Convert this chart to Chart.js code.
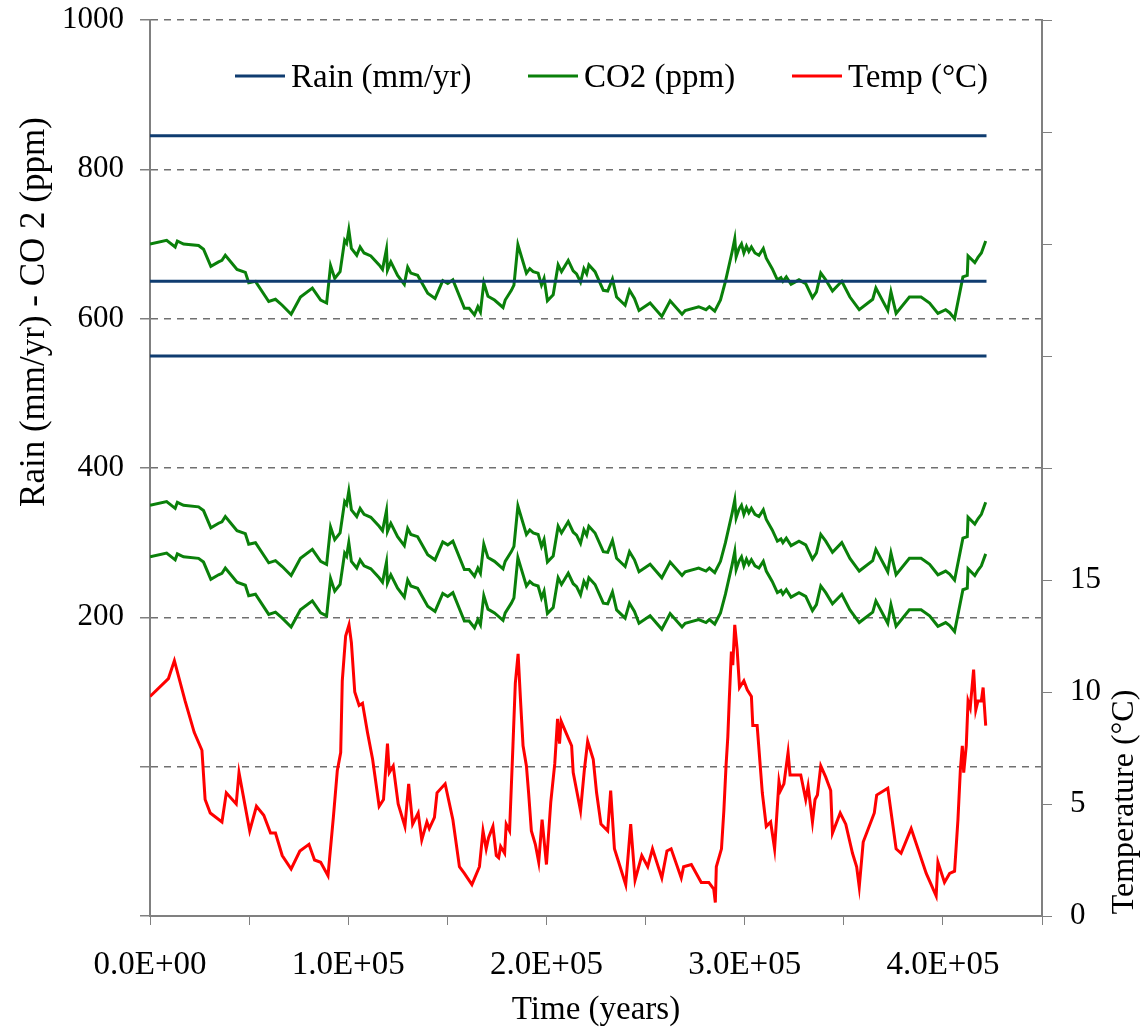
<!DOCTYPE html>
<html>
<head>
<meta charset="utf-8">
<script src="https://cdn.jsdelivr.net/npm/chart.js@4.4.1/dist/chart.umd.min.js"></script>
<style>
  html, body { margin: 0; padding: 0; background: #fff; }
  #wrap { width: 1141px; height: 1030px; }
</style>
</head>
<body>
<div id="wrap"><canvas id="climateChart" width="1141" height="1030"></canvas></div>
<script>
// Time axis (years) and the three rain scenarios
const rainYears = [0, 422000];
const rainLevels = [845, 650, 550];

// CO2 curves (ppm) - three shifted copies of the same record
const co2Years = [
  0, 8400, 12700, 13800, 16900, 24500, 27000, 30700, 34600, 36300,
  38000, 43900, 48100, 49800, 53200, 59900, 63300, 66700, 71200, 75900,
  81900, 86100, 89100, 91100, 93200, 95900, 98200, 99200, 100300, 101600,
  104300, 106000, 108000, 111400, 115600, 117300, 119300, 119800, 121500, 124900,
  128300, 130000, 131600, 135000, 140100, 143800, 147700, 150200, 152800, 158600,
  161000, 163700, 165400, 166700, 168400, 170500, 173800, 178100, 179200, 182300,
  183600, 185600, 189900, 191600, 193300, 195800, 197500, 198800, 200500, 203400,
  205900, 207600, 211000, 213500, 215200, 217200, 218900, 220300, 221400, 224500,
  228700, 230900, 233300, 235400, 239700, 241900, 244400, 246700, 252300, 258200,
  262400, 268400, 270000, 276800, 280500, 282200, 284900, 287800, 290300, 293700,
  295000, 295700, 297100, 298400, 299600, 300900, 302100, 303400, 305200, 307200,
  309400, 310900, 313900, 316500, 318300, 319300, 321000, 323400, 327400, 330800,
  334200, 336200, 338400, 340900, 344300, 349000, 353100, 357800, 364600, 366200,
  372200, 373800, 376400, 383100, 389000, 393300, 397500, 401400, 403400, 405900,
  410100, 412300, 412700, 416100, 417700, 419400, 421600
];
const co2Upper = [
  700, 705, 696, 704, 700, 698, 693, 670, 676, 678,
  685, 666, 662, 648, 650, 623, 626, 618, 606, 629,
  641, 625, 621, 671, 654, 663, 705, 701, 719, 694,
  685, 696, 688, 684, 672, 666, 693, 665, 676, 658,
  646, 669, 661, 658, 634, 627, 651, 647, 652, 614,
  614, 605, 616, 609, 648, 630, 625, 615, 625, 638,
  645, 699, 661, 667, 663, 661, 645, 654, 624, 632,
  672, 663, 678, 664, 660, 649, 667, 660, 672, 663,
  638, 637, 653, 629, 618, 638, 627, 611, 621, 603,
  624, 606, 611, 616, 612, 616, 610, 625, 650, 690,
  707, 683, 694, 700, 688, 697, 690, 696, 688, 685,
  694, 681, 667, 652, 655, 650, 656, 646, 652, 647,
  628, 636, 661, 652, 637, 650, 629, 612, 626, 641,
  611, 636, 607, 629, 629, 621, 607, 612, 608, 600,
  656, 658, 684, 675, 682, 688, 704
];
const co2Middle = [
  350, 355, 346, 354, 350, 348, 343, 320, 326, 328,
  335, 316, 312, 298, 300, 273, 276, 268, 256, 279,
  291, 275, 271, 321, 304, 313, 355, 351, 369, 344,
  335, 346, 338, 334, 322, 316, 343, 315, 326, 308,
  296, 319, 311, 308, 284, 277, 301, 297, 302, 264,
  264, 255, 266, 259, 298, 280, 275, 265, 275, 288,
  295, 349, 311, 317, 313, 311, 295, 304, 274, 282,
  322, 313, 328, 314, 310, 299, 317, 310, 322, 313,
  288, 287, 303, 279, 268, 288, 277, 261, 271, 253,
  274, 256, 261, 266, 262, 266, 260, 275, 300, 340,
  357, 333, 344, 350, 338, 347, 340, 346, 338, 335,
  344, 331, 317, 302, 305, 300, 306, 296, 302, 297,
  278, 286, 311, 302, 287, 300, 279, 262, 276, 291,
  261, 286, 257, 279, 279, 271, 257, 262, 258, 250,
  306, 308, 334, 325, 332, 338, 354
];
const co2Lower = [
  281, 286, 277, 285, 281, 279, 274, 251, 257, 259,
  266, 247, 243, 229, 231, 204, 207, 199, 187, 210,
  222, 206, 202, 252, 235, 244, 286, 282, 300, 275,
  266, 277, 269, 265, 253, 247, 274, 246, 257, 239,
  227, 250, 242, 239, 215, 208, 232, 228, 233, 195,
  195, 186, 197, 190, 229, 211, 206, 196, 206, 219,
  226, 280, 242, 248, 244, 242, 226, 235, 205, 213,
  253, 244, 259, 245, 241, 230, 248, 241, 253, 244,
  219, 218, 234, 210, 199, 219, 208, 192, 202, 184,
  205, 187, 192, 197, 193, 197, 191, 206, 231, 271,
  288, 264, 275, 281, 269, 278, 271, 277, 269, 266,
  275, 262, 248, 233, 236, 231, 237, 227, 233, 228,
  209, 217, 242, 233, 218, 231, 210, 193, 207, 222,
  192, 217, 188, 210, 210, 202, 188, 193, 189, 181,
  237, 239, 265, 256, 263, 269, 285
];

// Temperature record (deg C, right axis)
const tempYears = [
  0, 9300, 12300, 17700, 22300, 26200, 27800, 30400, 36300, 38500,
  43500, 44900, 50300, 53700, 57400, 60800, 63300, 66700, 71200, 75600,
  80200, 83000, 86100, 89800, 92500, 94500, 96200, 97000, 98700, 100400,
  101600, 103300, 105500, 107200, 109700, 112300, 115600, 117800, 119800, 120700,
  122700, 125200, 128600, 130500, 132500, 135300, 137100, 139700, 140900, 143500,
  144800, 148900, 152800, 156100, 158600, 162400, 166200, 168000, 169600, 170800,
  173000, 174700, 175900, 176900, 178900, 179700, 181400, 183100, 184300, 185700,
  187000, 188200, 189900, 191000, 192400, 194400, 196100, 197800, 200000, 202200,
  204200, 205600, 206600, 207400, 209300, 212700, 213500, 217200, 219100, 220800,
  223600, 225300, 227500, 230900, 232400, 234300, 240000, 242500, 244700, 248100,
  251100, 253500, 258200, 260800, 262900, 268000, 269200, 273100, 278100, 281900,
  284400, 285200, 285700, 288300, 289500, 290600, 291500, 292300, 293300, 294000,
  295000, 296200, 297400, 299600, 301300, 303400, 304100, 306300, 308900, 310900,
  313100, 315100, 317300, 318100, 319800, 321900, 322900, 328300, 330800, 332000,
  334200, 335500, 336700, 338400, 340900, 343400, 344300, 348200, 351000, 354400,
  356500, 357800, 359800, 365400, 366600, 372200, 376400, 378900, 384000, 391600,
  396600, 397500, 400800, 403400, 405900, 407600, 408800, 409800, 410500, 411800,
  412700, 413800, 415500, 416600, 417700, 419400, 420300, 421600
];
const tempValues = [
  9.8, 10.6, 11.4, 9.6, 8.2, 7.4, 5.2, 4.6, 4.2, 5.5,
  5.0, 6.4, 3.8, 4.9, 4.5, 3.7, 3.7, 2.7, 2.1, 2.9,
  3.2, 2.5, 2.4, 1.8, 4.4, 6.5, 7.3, 10.5, 12.5, 13.0,
  12.2, 10.0, 9.4, 9.5, 8.2, 7.0, 4.9, 5.2, 7.7, 6.4,
  6.7, 5.0, 4.0, 5.9, 4.1, 4.6, 3.4, 4.2, 3.9, 4.4,
  5.5, 5.9, 4.3, 2.2, 1.9, 1.4, 2.2, 3.8, 3.0, 3.5,
  4.0, 2.7, 2.6, 3.1, 2.8, 4.1, 3.8, 7.6, 10.4, 11.7,
  9.5, 7.6, 6.7, 5.5, 3.8, 3.2, 2.4, 4.3, 2.3, 5.1,
  6.8, 8.8, 7.7, 8.7, 8.3, 7.6, 6.4, 4.7, 6.5, 7.8,
  7.0, 5.5, 4.1, 3.8, 5.6, 3.0, 1.4, 4.1, 1.6, 2.7,
  2.2, 3.0, 1.7, 2.9, 3.0, 1.7, 2.2, 2.3, 1.5, 1.5,
  1.2, 0.6, 2.2, 3.0, 4.7, 6.7, 8.0, 9.8, 11.8, 11.2,
  13.0, 11.9, 10.2, 10.5, 10.1, 9.8, 8.5, 8.5, 5.5, 4.0,
  4.2, 3.0, 6.0, 5.6, 5.9, 7.3, 6.3, 6.3, 5.2, 5.8,
  4.2, 5.2, 5.4, 6.7, 6.2, 5.6, 3.7, 4.6, 4.1, 2.8,
  2.2, 1.3, 3.3, 4.6, 5.4, 5.7, 3.0, 2.8, 3.9, 1.9,
  0.9, 2.4, 1.5, 1.9, 2.0, 4.3, 6.5, 7.6, 6.4, 7.6,
  9.6, 9.3, 11.0, 9.2, 9.6, 9.6, 10.2, 8.5
];

// Axis tick setup
const leftMin = -200, leftMax = 1000, leftStep = 200;
const rightMin = 0, rightMax = 40, rightStep = 5;
const timeMin = 0, timeMax = 450000, timeStep = 50000;

const RAIN_COLOR = '#0f3c70';
const CO2_COLOR = '#0a800a';
const TEMP_COLOR = '#ff0000';
const AXIS_COLOR = '#808080';
const FONT = "'Liberation Serif', 'Times New Roman', serif";

function pairs(xs, ys) {
  return xs.map((x, i) => ({ x: x, y: ys[i] }));
}

function sciLabel(v) {
  if (v === 0) return '0.0E+00';
  const e = Math.floor(Math.log10(v));
  const m = v / Math.pow(10, e);
  return m.toFixed(1) + 'E+' + String(e).padStart(2, '0');
}

const datasets = [];
rainLevels.forEach((level, i) => {
  datasets.push({
    label: 'Rain (mm/yr)',
    data: pairs(rainYears, rainYears.map(() => level)),
    borderColor: RAIN_COLOR,
    borderWidth: 3,
    yAxisID: 'y',
    legendEntry: i === 0
  });
});
[co2Upper, co2Middle, co2Lower].forEach((series, i) => {
  datasets.push({
    label: 'CO2 (ppm)',
    data: pairs(co2Years, series),
    borderColor: CO2_COLOR,
    borderWidth: 3,
    yAxisID: 'y',
    legendEntry: i === 0
  });
});
datasets.push({
  label: 'Temp (°C)',
  data: pairs(tempYears, tempValues),
  borderColor: TEMP_COLOR,
  borderWidth: 3,
  yAxisID: 'y1',
  legendEntry: true
});

// Legend drawn inside the plot area, Excel style
const legendStarts = [235, 528, 792];
const insideLegend = {
  id: 'insideLegend',
  afterDraw(chart) {
    const ctx = chart.ctx;
    const y = 76;
    ctx.save();
    ctx.font = '33px ' + FONT;
    ctx.textBaseline = 'middle';
    ctx.fillStyle = '#000';
    chart.data.datasets.filter(d => d.legendEntry).forEach((d, i) => {
      const x = legendStarts[i];
      ctx.strokeStyle = d.borderColor;
      ctx.lineWidth = 3;
      ctx.beginPath();
      ctx.moveTo(x, y);
      ctx.lineTo(x + 50, y);
      ctx.stroke();
      ctx.fillText(d.label, x + 56, y + 2);
    });
    ctx.restore();
  }
};

// Vertical axis titles, placed where the original sheet had them
const sideTitles = {
  id: 'sideTitles',
  afterDraw(chart) {
    const ctx = chart.ctx;
    ctx.save();
    ctx.font = '35px ' + FONT;
    ctx.fillStyle = '#000';
    ctx.textAlign = 'center';
    ctx.textBaseline = 'middle';
    ctx.translate(35, 312);
    ctx.rotate(-Math.PI / 2);
    ctx.fillText('Rain (mm/yr) - CO 2 (ppm)', 0, 0);
    ctx.restore();

    ctx.save();
    ctx.font = '32px ' + FONT;
    ctx.fillStyle = '#000';
    ctx.textAlign = 'center';
    ctx.textBaseline = 'middle';
    ctx.translate(1125, 802);
    ctx.rotate(-Math.PI / 2);
    ctx.fillText('Temperature (°C)', 0, 0);
    ctx.restore();
  }
};

// keep the plot box where the original has it
function fixVertical(width) {
  return function (scale) {
    scale.width = width;
    scale.paddingTop = 0;
    scale.paddingBottom = 0;
  };
}

const ctx = document.getElementById('climateChart').getContext('2d');
new Chart(ctx, {
  type: 'scatter',
  data: { datasets: datasets },
  options: {
    responsive: false,
    animation: false,
    showLine: true,
    layout: { padding: { top: 20, left: 0, right: 0, bottom: 0 } },
    elements: {
      point: { radius: 0, hoverRadius: 0 },
      line: { tension: 0, fill: false }
    },
    plugins: {
      legend: { display: false },
      tooltip: { enabled: false }
    },
    scales: {
      x: {
        type: 'linear',
        min: timeMin,
        max: timeMax,
        afterFit(scale) { scale.height = 114; },
        afterBuildTicks(scale) {
          const t = [];
          for (let v = timeMin; v <= timeMax; v += timeStep) t.push({ value: v });
          scale.ticks = t;
        },
        ticks: {
          autoSkip: false,
          maxRotation: 0,
          padding: 21,
          color: '#000',
          font: { family: FONT, size: 33 },
          callback: v => (v % 100000 === 0 && v < timeMax) ? sciLabel(v) : ''
        },
        grid: {
          drawOnChartArea: false,
          tickLength: 9,
          tickColor: AXIS_COLOR,
          color: AXIS_COLOR
        },
        border: { color: AXIS_COLOR, width: 2 },
        title: {
          display: true,
          text: 'Time (years)',
          color: '#000',
          font: { family: FONT, size: 33 },
          padding: { top: 0, bottom: 0 }
        }
      },
      y: {
        position: 'left',
        min: leftMin,
        max: leftMax,
        afterFit: fixVertical(150),
        ticks: {
          stepSize: leftStep,
          padding: 16,
          color: '#000',
          font: { family: FONT, size: 31 },
          callback: v => v >= 200 ? v : ''
        },
        grid: {
          tickLength: 10,
          tickColor: AXIS_COLOR,
          lineWidth: 1.5,
          color: c => c.tick && c.tick.value === leftMin ? 'rgba(0,0,0,0)' : '#707070'
        },
        border: { color: AXIS_COLOR, width: 2, dash: [7, 6] }
      },
      y1: {
        position: 'right',
        min: rightMin,
        max: rightMax,
        afterFit: fixVertical(99),
        ticks: {
          stepSize: rightStep,
          padding: 18,
          color: '#000',
          font: { family: FONT, size: 31 },
          callback: v => v <= 15 ? v : ''
        },
        grid: {
          drawOnChartArea: false,
          tickLength: 10,
          tickColor: AXIS_COLOR
        },
        border: { color: AXIS_COLOR, width: 2 }
      }
    }
  },
  plugins: [insideLegend, sideTitles]
});
</script>
</body>
</html>
